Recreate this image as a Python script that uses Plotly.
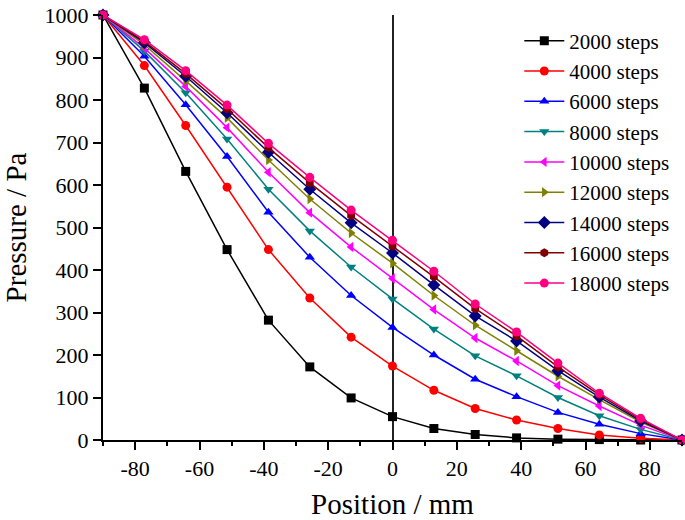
import plotly.graph_objects as go

positions = [-90, -77.14, -64.29, -51.43, -38.57, -25.71, -12.86, 0,
             12.86, 25.71, 38.57, 51.43, 64.29, 77.14, 90]

series_names = ["2000 steps", "4000 steps", "6000 steps", "8000 steps", "10000 steps",
                "12000 steps", "14000 steps", "16000 steps", "18000 steps"]

p2000 = [1000, 828, 632, 448, 282, 172, 99, 55, 27, 13, 5, 2, 1, 0, 0]
p4000 = [1000, 881, 740, 595, 448, 334, 242, 174, 117, 74, 47, 27, 12, 4, 0]
p6000 = [1000, 903, 789, 667, 536, 430, 340, 265, 200, 143, 102, 65, 37, 15, 0]
p8000 = [1000, 915, 817, 708, 590, 492, 407, 332, 261, 198, 151, 100, 57, 25, 0]
p10000 = [1000, 922, 832, 735, 630, 535, 454, 380, 307, 240, 186, 128, 80, 35, 0]
p12000 = [1000, 930, 845, 758, 659, 567, 487, 416, 340, 270, 210, 150, 95, 42, 0]
p14000 = [1000, 935, 856, 770, 677, 590, 511, 440, 365, 292, 233, 163, 101, 45, 0]
p16000 = [1000, 938, 862, 779, 688, 605, 528, 456, 384, 309, 245, 172, 106, 48, 0]
p18000 = [1000, 942, 869, 788, 698, 618, 541, 470, 397, 320, 254, 181, 110, 51, 0]

series_values = [p2000, p4000, p6000, p8000, p10000, p12000, p14000, p16000, p18000]
colors = ["#000000", "#FF0000", "#0000FF", "#008080", "#FF00FF",
          "#808000", "#000080", "#800000", "#FF0080"]
symbols = ["square", "circle", "triangle-up", "triangle-down", "triangle-left",
           "triangle-right", "diamond", "hexagon", "circle"]

x_ticks = [-80, -60, -40, -20, 0, 20, 40, 60, 80]
y_ticks = [0, 100, 200, 300, 400, 500, 600, 700, 800, 900, 1000]

FONT = "Liberation Serif"

fig = go.Figure()
for name, vals, c, s in zip(series_names, series_values, colors, symbols):
    fig.add_trace(go.Scatter(
        x=positions, y=vals, name=name, mode="lines+markers",
        line=dict(color=c, width=1.5),
        marker=dict(color=c, symbol=s, size=9 if s != "diamond" else 10),
        cliponaxis=False,
    ))

fig.update_layout(
    width=685, height=520,
    margin=dict(l=103, r=3, t=15, b=80),
    paper_bgcolor="white", plot_bgcolor="white",
    font=dict(family=FONT, color="black"),
    showlegend=True,
    legend=dict(x=0.719, y=0.987, xanchor="left", yanchor="top",
                font=dict(family=FONT, size=21, color="black"),
                bgcolor="rgba(0,0,0,0)", itemwidth=40, tracegroupgap=0),
)

fig.update_xaxes(
    range=[-90, 90], tickvals=x_ticks, ticktext=[str(v) for v in x_ticks],
    ticks="outside", ticklen=8, tickwidth=2, tickcolor="black",
    showline=True, linecolor="black", linewidth=2,
    showgrid=False, zeroline=True, zerolinecolor="#222222", zerolinewidth=1.5,
    minor=dict(dtick=10, tick0=-90, ticks="outside", ticklen=4, tickwidth=2, tickcolor="black"),
    tickfont=dict(family=FONT, size=22, color="black"),
    ticklabeloverflow="allow",
    title=dict(text="Position / mm", font=dict(family=FONT, size=29, color="black"), standoff=15),
)
fig.update_yaxes(
    range=[0, 1000], tickvals=y_ticks, ticktext=[str(v) for v in y_ticks],
    ticks="outside", ticklen=8, tickwidth=2, tickcolor="black",
    showline=True, linecolor="black", linewidth=2,
    showgrid=False, zeroline=False,
    tickfont=dict(family=FONT, size=22, color="black"),
    ticklabeloverflow="allow",
    title=dict(text="Pressure / Pa", font=dict(family=FONT, size=29, color="black"), standoff=20),
)

fig.write_html("out.html", config={"displayModeBar": False},
               post_script="document.body.style.margin='0px';")
